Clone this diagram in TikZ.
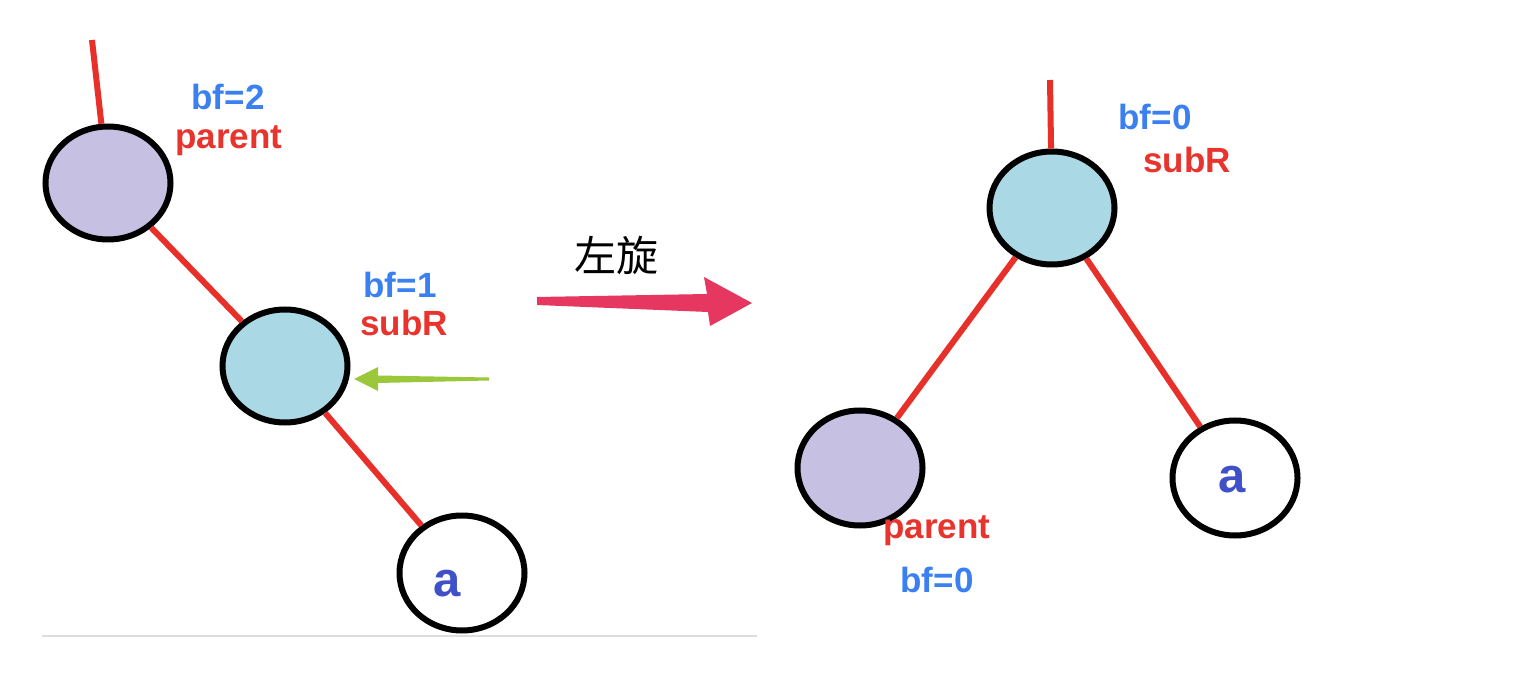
\documentclass[tikz,border=0pt]{standalone}
\usepackage{fontspec}
\setmainfont{Liberation Sans}
\newfontfamily\cjk{Noto Sans CJK SC}
\usetikzlibrary{shapes.geometric,arrows.meta}
\definecolor{edgered}{HTML}{E8302A}
\definecolor{lblue}{HTML}{3B80F0}
\definecolor{lred}{HTML}{E8342C}
\definecolor{abl}{HTML}{4050C8}
\definecolor{purp}{HTML}{C6C0E2}
\definecolor{skyb}{HTML}{AAD8E5}
\definecolor{greenar}{HTML}{9BC73A}
\definecolor{pinkar}{HTML}{E5375F}
\definecolor{rule}{HTML}{DDDDDD}
\begin{document}
\begin{tikzpicture}[x=1pt,y=-1pt,
  tn/.style={ellipse, draw=black, line width=6pt, minimum width=125pt, minimum height=113pt, inner sep=0pt},
  edge/.style={draw=edgered, line width=6pt},
  lbl/.style={font=\fontsize{35}{40}\selectfont\bfseries, inner sep=0pt},
  atext/.style={font=\fontsize{49}{54}\selectfont\bfseries, text=abl, inner sep=0pt}]
\useasboundingbox (0,0) rectangle (1518,692);
\fill[white] (0,0) rectangle (1518,692);

% left tree
\node[tn, fill=purp] (P1) at (108,183) {};
\node[tn, fill=skyb] (S1) at (285,366) {};
\node[tn, fill=white, minimum height=115pt] (A1) at (462,573) {};
\node[atext] (a1) at (447,584) {a};
\coordinate (t1) at (92,40);
\draw[edge] (t1) -- (P1);
\draw[edge] (P1) -- (S1);
\draw[edge] (S1) -- (A1);
\node[lbl, text=lblue] (bf2) at (228,97) {bf=2};
\node[lbl, text=lred] (par1) at (229,141) {parent};
\node[lbl, text=lblue] (bf1) at (400,285) {bf=1};
\node[lbl, text=lred] (sub1) at (404,323) {subR};

% green pointer
\coordinate (gtail) at (489,379);
\coordinate (gtip) at (354,379);
\fill[greenar] (gtail) -- ++(0,-1.5) -- (378,375.5) -- (378,367) -- (gtip) -- (378,391) -- (378,383) -- (489,380.5) -- cycle;

% rotation arrow
\node[font=\cjk\fontsize{42}{46}\selectfont, inner sep=0pt] (rot) at (616,256) {左旋};
\coordinate (rtail) at (537,301);
\coordinate (rtip) at (752,303);
\fill[pinkar] (537,297) -- (707,294) -- (704,277) -- (rtip) -- (710,326) -- (708,312) -- (537,305) -- cycle;

% separator
\draw[rule, line width=1.5pt] (42,636) -- (757,636);

% right tree
\node[tn, fill=skyb] (S2) at (1052,208) {};
\node[tn, fill=purp, minimum height=115pt] (P2) at (860,468) {};
\node[tn, fill=white, minimum height=115pt] (A2) at (1235,478) {};
\node[atext] (a2) at (1232,480) {a};
\coordinate (t2) at (1050,80);
\draw[edge] (t2) -- (S2);
\draw[edge] (S2) -- (P2);
\draw[edge] (S2) -- (A2);
\node[lbl, text=lblue] (bf0a) at (1155,117) {bf=0};
\node[lbl, text=lred] (sub2) at (1187,160) {subR};
\node[lbl, text=lred] (par2) at (937,531) {parent};
\node[lbl, text=lblue] (bf0b) at (937,580) {bf=0};
\end{tikzpicture}
\end{document}
